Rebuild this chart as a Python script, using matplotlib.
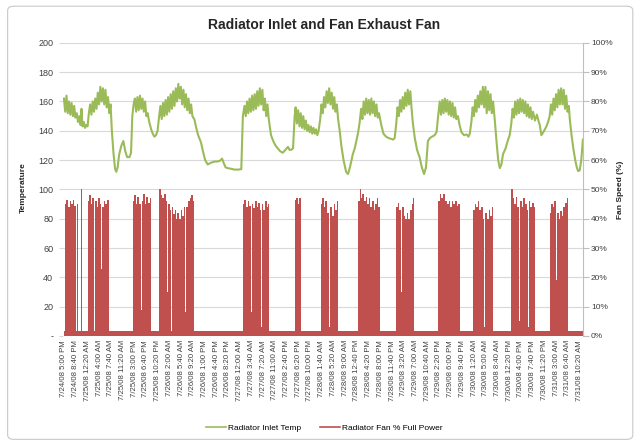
import matplotlib
matplotlib.use("Agg")
import matplotlib.pyplot as plt
from matplotlib.lines import Line2D
from matplotlib.patches import FancyBboxPatch

plt.rcParams["font.family"] = ["Liberation Sans", "DejaVu Sans"]

# hours since 7/24/08 5:00 PM
temp_hours = [
    0.0, 0.4, 0.8, 1.2, 1.6, 2.0, 2.4, 2.8, 3.2, 3.6, 4.0, 4.4, 4.8, 5.2, 5.5, 5.8, 6.2, 6.6, 7.0, 7.4,
    7.8, 8.2, 8.6, 9.0, 9.4, 9.8, 10.2, 10.6, 11.0, 11.4, 11.8, 12.2, 12.6, 13.0, 13.4, 13.8, 14.2, 14.6,
    15.0, 15.5, 16.0, 16.4, 16.8, 17.3, 18.0, 18.6, 19.2, 19.8, 20.5, 21.0, 21.4, 21.8,
    22.2, 22.6, 23.0, 23.4, 23.8, 24.2, 24.6, 25.0, 25.4, 25.8, 26.2,
    26.7, 27.3, 27.8, 28.3, 28.8, 29.3, 29.8, 30.2,
    30.6, 31.0, 31.4, 31.8, 32.2, 32.6, 33.0, 33.4, 33.8, 34.2, 34.6, 35.0, 35.4, 35.8, 36.2, 36.6,
    37.0, 37.4, 37.8, 38.2, 38.6, 39.0, 39.4, 39.8, 40.2, 40.8,
    41.4, 42.0, 42.9, 43.5, 44.2, 45.0, 45.8, 46.5, 47.1, 48.0, 48.8, 49.5, 50.0, 50.6, 51.3, 52.5,
    53.4, 54.5, 55.5, 56.0, 56.5,
    56.9, 57.3, 57.7, 58.1, 58.5, 58.9, 59.3, 59.7, 60.1, 60.5, 60.9, 61.3, 61.7, 62.1, 62.5, 62.9,
    63.3, 63.7, 64.1,
    64.8, 65.5, 66.2, 66.9, 67.7, 68.5, 69.3, 70.1, 70.6, 71.1, 71.7, 72.2, 72.5,
    72.9, 73.3, 73.7, 74.1, 74.5, 74.9, 75.3, 75.7, 76.1, 76.5, 76.9, 77.3, 77.7, 78.1, 78.5, 78.9,
    79.3, 79.7,
    80.2, 80.6, 81.0, 81.4, 81.8, 82.2, 82.6, 83.0, 83.4, 83.8, 84.2, 84.6, 85.0, 85.4,
    85.8, 86.3, 86.8, 87.5, 88.3, 88.9, 89.5, 90.4, 91.0, 91.5, 92.0, 92.5,
    93.0, 93.4, 93.8, 94.2, 94.6, 95.0, 95.4, 95.8, 96.2, 96.6, 97.0, 97.4, 97.8, 98.2, 98.6, 99.3,
    100.0, 100.8, 101.6, 102.4, 103.0, 103.5,
    104.0, 104.4, 104.8, 105.2, 105.6, 106.0, 106.4, 106.8, 107.2, 107.6, 108.0, 108.4, 108.8,
    109.2, 109.8, 110.5, 111.3, 112.0, 112.7, 113.3, 113.9, 114.5, 115.2, 116.0, 116.6,
    117.1, 117.6, 118.0, 118.4, 118.8, 119.2, 119.6, 120.0, 120.4, 120.8, 121.2, 121.6, 122.0,
    122.4, 122.8, 123.3,
    123.8, 124.4, 125.2, 126.0, 126.6, 127.0,
    127.5, 127.9, 128.3, 128.7, 129.1, 129.5, 129.9, 130.3, 130.7, 131.1, 131.5, 131.9, 132.3,
    132.7, 133.1, 133.5, 133.9, 134.3,
    134.8, 135.4, 135.9, 136.4, 136.9, 137.4, 138.2, 139.0, 139.5,
    140.0, 140.4, 140.8, 141.2, 141.6, 142.0, 142.4, 142.8, 143.2, 143.6, 144.0, 144.4, 144.8,
    145.2, 145.6, 146.0, 146.4, 146.8, 147.4, 148.0, 148.6, 148.9,
    149.4, 150.0, 150.5, 151.0, 151.5,
    152.0, 152.4, 152.8, 153.2, 153.6, 154.0, 154.4, 154.8, 155.2, 155.6, 156.0, 156.4, 156.8,
    157.2, 157.6, 158.0,
    158.3, 158.8, 159.4, 160.0, 160.5, 160.9, 161.4, 161.9, 162.4,
]
temp_vals = [
    162, 153, 164, 152, 160, 151, 159, 150, 157, 149, 152, 146, 150, 144, 155, 143, 146, 142, 144, 143,
    152, 158, 151, 160, 153, 162, 155, 166, 158, 170, 160, 169, 158, 168, 156, 163, 152, 158,
    140, 125, 114, 112, 115, 124, 130, 133, 126, 122, 122, 125, 150, 158,
    162, 153, 163, 154, 164, 155, 162, 153, 160, 150, 152,
    146, 141, 138, 136, 137, 140, 150, 157,
    148, 159, 150, 161, 151, 163, 153, 165, 155, 167, 157, 169, 160, 172, 162, 170,
    158, 168, 156, 165, 154, 162, 152, 158, 150, 148,
    142, 137, 132, 126, 120, 117, 118, 118.5, 119, 119, 119.5, 121, 118, 115, 114.5, 114,
    113.5, 113.5, 113.8, 150, 157,
    150, 160, 152, 162, 153, 164, 154, 165, 155, 167, 157, 169, 158, 168, 154, 162,
    150, 158, 148,
    137, 133, 130, 128, 126, 125, 127, 129, 127, 127, 128, 150, 156,
    145, 154, 143, 152, 142, 150, 141, 147, 140, 144, 139, 143, 138, 142, 138, 141,
    137, 140,
    148, 158, 152, 163, 156, 167, 159, 169, 158, 166, 155, 163, 153, 158,
    148, 140, 130, 120, 112, 110.5, 115, 124, 128, 133, 138, 145,
    155, 148, 160, 151, 162, 152, 161, 151, 162, 152, 160, 150, 158, 149, 152, 144,
    138, 136, 135, 134.5, 134, 135,
    145, 156, 150, 161, 153, 163, 155, 166, 157, 168, 158, 167, 155,
    145, 135, 127, 122, 115, 110.5, 115, 133, 135, 136, 137, 139,
    150, 160, 151, 161, 152, 162, 153, 161, 151, 160, 150, 159, 149,
    156, 148, 150,
    144, 139, 137, 137.5, 136, 138,
    146, 156, 150, 161, 153, 164, 156, 167, 158, 170, 156, 170, 152,
    167, 154, 165, 152, 160,
    148, 132, 120, 114.5, 117, 124, 128, 134, 137,
    145, 155, 149, 160, 151, 161, 152, 162, 153, 161, 152, 160, 150,
    158, 149, 156, 148, 153, 147, 151, 146, 144,
    137, 139, 141, 143, 146,
    150, 158, 151, 162, 154, 165, 156, 168, 158, 169, 158, 168, 155,
    164, 153, 157,
    148, 138, 128, 120, 115, 112.5, 113, 120, 134,
]

# fan speed (% full power), value holds from each hour until the next one
fan_hours = [
    0.0, 0.3, 0.8, 1.3, 1.8, 2.3, 2.8, 3.3, 3.8, 4.2, 4.5, 5.4, 5.7,
    7.4, 7.9, 8.4, 8.9, 9.4, 9.7, 10.2, 10.7, 11.2, 11.6, 12.0, 12.5, 13.0, 13.5, 14.2,
    21.5, 22.0, 22.5, 23.0, 23.5, 24.0, 24.3, 24.8, 25.3, 25.8, 26.3, 26.8, 27.3,
    29.9, 30.3, 30.8, 31.3, 31.8, 32.3, 32.6, 33.1, 33.4, 33.7, 34.2, 34.7, 35.2, 35.5, 36.0,
    36.5, 37.0, 37.5, 38.0, 38.3, 38.8, 39.3, 39.8, 40.3, 40.8,
    56.0, 56.5, 57.0, 57.5, 58.0, 58.5, 58.8, 59.3, 59.8, 60.3, 60.8, 61.3, 61.6, 61.9, 62.4,
    62.9, 63.4, 63.9, 64.3,
    72.2, 72.7, 73.2, 73.7, 74.2,
    80.3, 80.8, 81.3, 81.8, 82.3, 82.8, 83.1, 83.4, 83.9, 84.4, 84.9, 85.3, 85.7,
    92.0, 92.5, 92.9, 93.4, 93.9, 94.4, 94.9, 95.4, 95.9, 96.4, 96.9, 97.4, 97.9, 98.4, 98.8,
    104.0, 104.5, 105.0, 105.5, 105.8, 106.3, 106.8, 107.3, 107.8, 108.3, 108.8, 109.3, 109.7,
    117.1, 117.6, 118.1, 118.6, 119.1, 119.4, 119.9, 120.4, 120.9, 121.4, 121.9, 122.4, 122.9,
    123.4, 123.8,
    128.0, 128.5, 129.0, 129.5, 130.0, 130.5, 131.0, 131.6, 131.9, 132.4, 132.9, 133.4, 133.9, 134.3,
    140.0, 140.4, 140.9, 141.4, 141.9, 142.5, 142.8, 143.3, 143.8, 144.3, 144.8, 145.2, 145.5,
    146.0, 146.5, 147.0, 147.3,
    152.0, 152.5, 153.0, 153.5, 154.0, 154.3, 154.8, 155.3, 155.8, 156.3, 156.8, 157.3, 157.8,
    162.4,
]
fan_vals = [
    1.7, 45, 46.5, 44, 46, 45, 46.5, 44.5, 1.7, 45, 1.7, 50, 1.7,
    46, 48, 45, 47, 1.7, 46, 44, 47, 45, 23, 44, 46, 45, 46.5, 1.7,
    46, 48, 45, 47.5, 45, 9, 46, 48.5, 45, 47.5, 45.5, 47, 1.7,
    50, 48, 47, 48.5, 46, 15, 45, 43, 1.7, 44, 41.5, 43, 40, 42, 40,
    43, 41, 44, 8, 44, 46, 47, 48, 46, 1.7,
    45, 46.5, 44, 46, 44.5, 8, 45, 43.5, 46, 44, 45.5, 43, 3, 45, 43,
    46, 44, 45, 1.7,
    46.5, 47, 45, 47, 1.7,
    45, 47, 44, 46, 42, 43, 3, 44, 41, 45, 43, 46, 1.7,
    46, 50, 47, 48.5, 46, 47.5, 45, 47, 44, 46, 43, 45, 47, 44, 1.7,
    44, 45.5, 43, 15, 44, 41, 40, 42, 40, 43, 45, 47, 1.7,
    46, 48.5, 47, 48.5, 13, 46, 45, 46, 44, 46, 45, 46, 44.5,
    45, 1.7,
    43, 45, 44, 46, 43, 44, 40, 3, 42, 40, 43, 41, 44, 1.7,
    50, 47, 45, 47.5, 44, 5, 46, 44, 47, 45, 43, 3, 46,
    44, 45.5, 44, 1.7,
    42, 45, 44, 46, 19, 42, 40, 42.5, 41, 44, 45.5, 47, 1.7,
    1.7,
]

tick_labels = [
    "7/24/08 5:00 PM", "7/24/08 8:40 PM", "7/25/08 12:20 AM", "7/25/08 4:00 AM",
    "7/25/08 7:40 AM", "7/25/08 11:20 AM", "7/25/08 3:00 PM", "7/25/08 6:40 PM",
    "7/25/08 10:20 PM", "7/26/08 2:00 AM", "7/26/08 5:40 AM", "7/26/08 9:20 AM",
    "7/26/08 1:00 PM", "7/26/08 4:40 PM", "7/26/08 8:20 PM", "7/27/08 12:00 AM",
    "7/27/08 3:40 AM", "7/27/08 7:20 AM", "7/27/08 11:00 AM", "7/27/08 2:40 PM",
    "7/27/08 6:20 PM", "7/27/08 10:00 PM", "7/28/08 1:40 AM", "7/28/08 5:20 AM",
    "7/28/08 9:00 AM", "7/28/08 12:40 PM", "7/28/08 4:20 PM", "7/28/08 8:00 PM",
    "7/28/08 11:40 PM", "7/29/08 3:20 AM", "7/29/08 7:00 AM", "7/29/08 10:40 AM",
    "7/29/08 2:20 PM", "7/29/08 6:00 PM", "7/29/08 9:40 PM", "7/30/08 1:20 AM",
    "7/30/08 5:00 AM", "7/30/08 8:40 AM", "7/30/08 12:20 PM", "7/30/08 4:00 PM",
    "7/30/08 7:40 PM", "7/30/08 11:20 PM", "7/31/08 3:00 AM", "7/31/08 6:40 AM",
    "7/31/08 10:20 AM",
]
tick_step = 220 / 60  # labels every 3h40m

green = "#9BBB59"
red = "#C0504D"
grid_c = "#D9D9D9"
text_c = "#404040"

fig = plt.figure(figsize=(6.36, 4.42), dpi=100)
fig.patches.append(FancyBboxPatch((0.012, 0.006), 0.983, 0.98, boxstyle="round,pad=0,rounding_size=0.01",
                                  transform=fig.transFigure, fc="none", ec="#C8C8C8", lw=0.8, zorder=-1))
ax = fig.add_axes([0.099, 0.240, 0.818, 0.663])
ax2 = ax.twinx()

ax2.fill_between(fan_hours, fan_vals, step="post", color=red, lw=0)
ax.plot(temp_hours, temp_vals, color=green, lw=1.5)

ax.set_zorder(2)
ax.patch.set_visible(False)

ax.set_xlim(-0.3, 162.5)
ax.set_ylim(0, 200)
ax2.set_ylim(0, 100)

ax.set_yticks(range(0, 201, 20))
ax.set_yticklabels(["-"] + [str(v) for v in range(20, 201, 20)])
ax2.set_yticks(range(0, 101, 10))
ax2.set_yticklabels([f"{v}%" for v in range(0, 101, 10)])
ax.set_xticks([i * tick_step for i in range(len(tick_labels))])
ax.set_xticklabels(tick_labels, rotation=90, fontsize=5.6, color=text_c)

ax2.grid(axis="y", color=grid_c, lw=0.8)
ax2.set_axisbelow(True)
for s in ["top", "left", "bottom", "right"]:
    ax.spines[s].set_visible(False)
for s in ["top", "left", "bottom"]:
    ax2.spines[s].set_visible(False)
ax2.spines["right"].set_color("#BFBFBF")

ax.tick_params(axis="y", length=3, color=grid_c, labelsize=6.5, labelcolor=text_c, pad=4)
ax.tick_params(axis="x", length=0, pad=3)
ax2.tick_params(axis="y", length=4, color="#BFBFBF", labelsize=6, labelcolor=text_c, pad=1.5)

fig.text(0.037, 0.575, "Temperature", rotation=90, ha="center", va="center",
         fontsize=6, fontweight="bold", color="#262626")
fig.text(0.975, 0.570, "Fan Speed (%)", rotation=90, ha="center", va="center",
         fontsize=6, fontweight="bold", color="#262626")
fig.text(0.51, 0.943, "Radiator Inlet and Fan Exhaust Fan", ha="center", va="center",
         fontsize=10, fontweight="bold", color="#262626")

handles = [Line2D([], [], color=green, lw=1.2), Line2D([], [], color=red, lw=1.2)]
fig.legend(handles, ["Radiator Inlet Temp", "Radiator Fan % Full Power"], loc="center",
           bbox_to_anchor=(0.51, 0.032), ncol=2, frameon=False, fontsize=6,
           handlelength=2.4, columnspacing=2.2, handletextpad=0.3)

fig.savefig("out.png", dpi=100)
